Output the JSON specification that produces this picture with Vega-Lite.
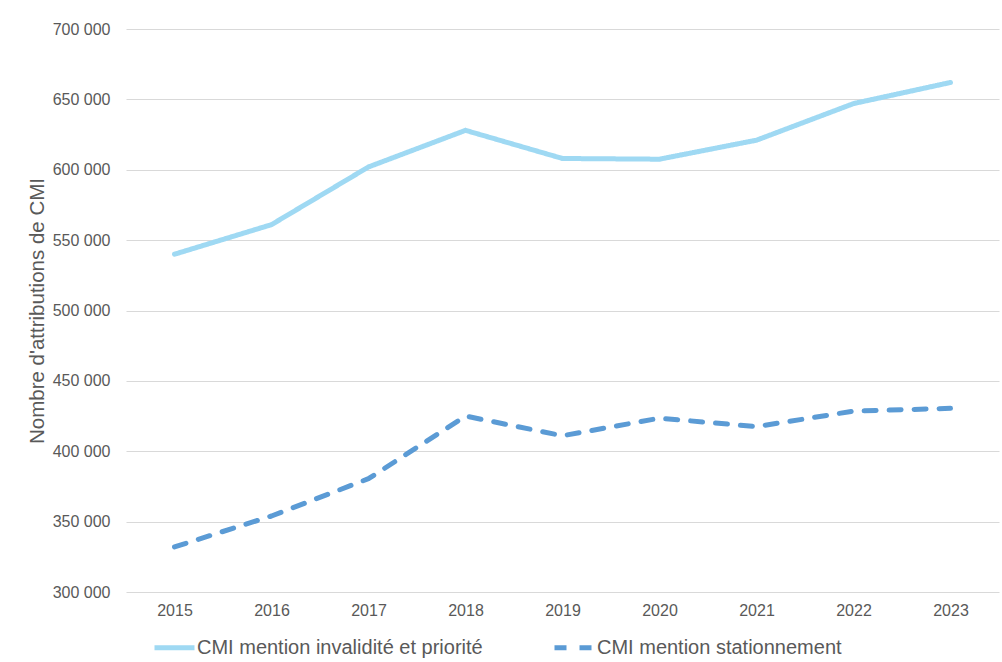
{
  "$schema": "https://vega.github.io/schema/vega-lite/v6.json",
  "width": 873,
  "height": 563,
  "autosize": {"type": "none"},
  "padding": {"left": 126, "top": 29, "right": 3, "bottom": 70},
  "background": "white",
  "config": {
    "locale": {"number": {"decimal": ",", "thousands": " ", "grouping": [3], "currency": ["", " €"]}},
    "view": {"stroke": null},
    "font": "Liberation Sans"
  },
  "data": {
    "values": [
      {"annee": "2015", "serie": "CMI mention invalidité et priorité", "valeur": 540000},
      {"annee": "2016", "serie": "CMI mention invalidité et priorité", "valeur": 561000},
      {"annee": "2017", "serie": "CMI mention invalidité et priorité", "valeur": 602000},
      {"annee": "2018", "serie": "CMI mention invalidité et priorité", "valeur": 628000},
      {"annee": "2019", "serie": "CMI mention invalidité et priorité", "valeur": 608000},
      {"annee": "2020", "serie": "CMI mention invalidité et priorité", "valeur": 607500},
      {"annee": "2021", "serie": "CMI mention invalidité et priorité", "valeur": 621000},
      {"annee": "2022", "serie": "CMI mention invalidité et priorité", "valeur": 647000},
      {"annee": "2023", "serie": "CMI mention invalidité et priorité", "valeur": 662000},
      {"annee": "2015", "serie": "CMI mention stationnement", "valeur": 332000},
      {"annee": "2016", "serie": "CMI mention stationnement", "valeur": 354000},
      {"annee": "2017", "serie": "CMI mention stationnement", "valeur": 380500},
      {"annee": "2018", "serie": "CMI mention stationnement", "valeur": 425000},
      {"annee": "2019", "serie": "CMI mention stationnement", "valeur": 411000},
      {"annee": "2020", "serie": "CMI mention stationnement", "valeur": 423500},
      {"annee": "2021", "serie": "CMI mention stationnement", "valeur": 417500},
      {"annee": "2022", "serie": "CMI mention stationnement", "valeur": 428500},
      {"annee": "2023", "serie": "CMI mention stationnement", "valeur": 430500}
    ]
  },
  "mark": {"type": "line", "strokeWidth": 5, "strokeCap": "round", "strokeJoin": "round"},
  "encoding": {
    "x": {
      "field": "annee", "type": "ordinal",
      "scale": {"type": "point", "padding": 0.5},
      "axis": {"title": null, "labelAngle": 0, "ticks": false, "domain": false, "grid": false,
               "labelFontSize": 16, "labelColor": "#595959", "labelPadding": 10}
    },
    "y": {
      "field": "valeur", "type": "quantitative",
      "scale": {"domain": [300000, 700000], "nice": false, "zero": false},
      "axis": {"title": "Nombre d'attributions de CMI", "format": ",d", "values": [300000, 350000, 400000, 450000, 500000, 550000, 600000, 650000, 700000],
               "ticks": false, "tickSize": 0, "domain": false, "grid": true, "gridColor": "#d9d9d9", "gridWidth": 1,
               "labelFontSize": 16, "labelColor": "#595959", "labelPadding": 16,
               "titleFontSize": 20.5, "titleFontWeight": "normal", "titleColor": "#595959", "titlePadding": 5}
    },
    "color": {
      "field": "serie", "type": "nominal",
      "scale": {"domain": ["CMI mention invalidité et priorité", "CMI mention stationnement"], "range": ["#9fd9f3", "#5b9bd5"]},
      "legend": {"title": null, "orient": "none", "legendX": 26, "legendY": 596, "direction": "horizontal",
                 "symbolType": "stroke", "symbolSize": 1600, "symbolStrokeWidth": 5, "symbolDash": null,
                 "labelFontSize": 20, "labelColor": "#595959", "labelOffset": 0, "columnPadding": 61, "labelLimit": 500}
    },
    "strokeDash": {
      "field": "serie", "type": "nominal",
      "scale": {"domain": ["CMI mention invalidité et priorité", "CMI mention stationnement"], "range": [[1, 0], [12, 13]]},
      "legend": null
    }
  }
}
